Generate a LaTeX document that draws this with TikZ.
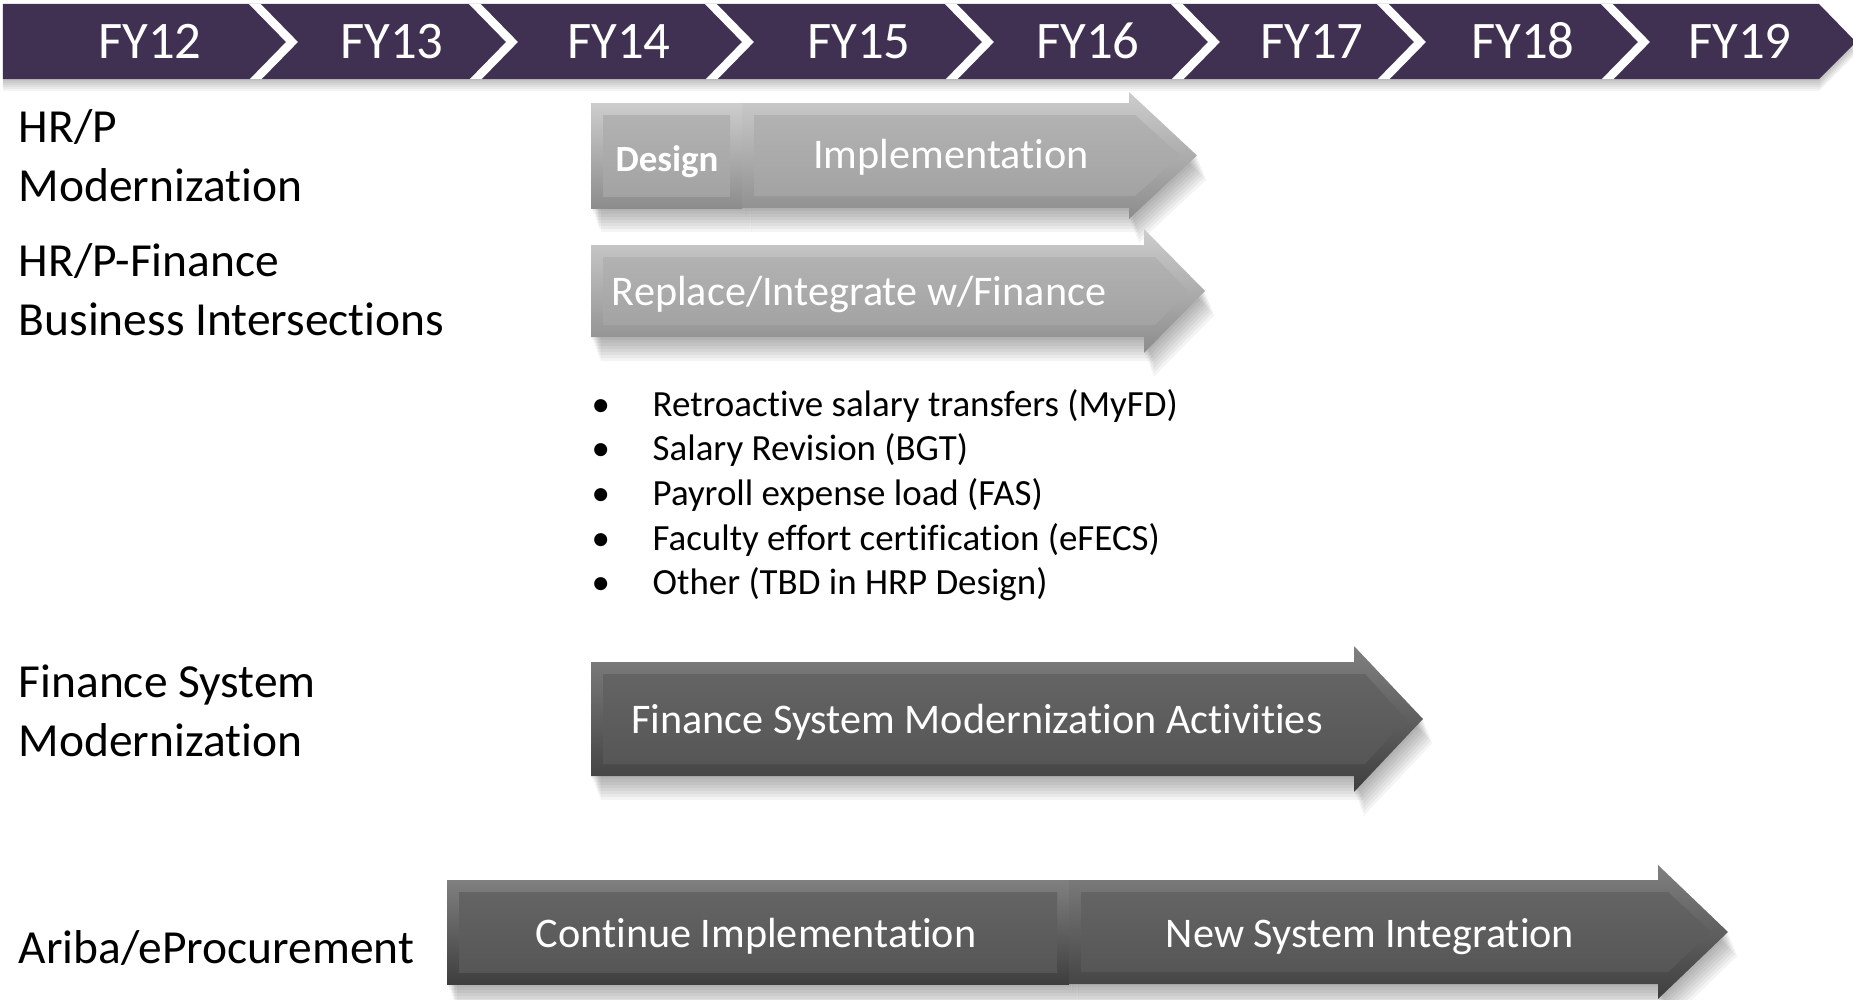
\documentclass[tikz,border=0pt]{standalone}
\usepackage{fontspec}
\setmainfont{Carlito}[Ligatures=NoCommon]

\definecolor{barpurple}{RGB}{64,49,82}
\definecolor{lightrimtop}{RGB}{205,205,205}
\definecolor{lightrimbot}{RGB}{140,140,140}
\definecolor{lightfacetop}{RGB}{178,178,178}
\definecolor{lightfacebot}{RGB}{163,163,163}
\definecolor{darkrimtop}{RGB}{128,128,128}
\definecolor{darkrimbot}{RGB}{62,62,62}
\definecolor{darkfacetop}{RGB}{100,100,100}
\definecolor{darkfacebot}{RGB}{86,86,86}

\tikzset{
	lightrim/.style={top color=lightrimtop, bottom color=lightrimbot},
	lightface/.style={top color=lightfacetop, bottom color=lightfacebot},
	darkrim/.style={top color=darkrimtop, bottom color=darkrimbot},
	darkface/.style={top color=darkfacetop, bottom color=darkfacebot},
	softshadow/.style={black, opacity=0.045},
	yearlabel/.style={anchor=base, text=white, inner sep=0pt, font=\fontsize{15}{18}\selectfont},
	rowlabel/.style={anchor=base west, align=left, inner sep=0pt, font=\fontsize{13.5}{16.5}\selectfont},
	barlabel/.style={anchor=base, text=white, inner sep=0pt, font=\fontsize{12}{14}\selectfont},
	itemlabel/.style={anchor=base west, inner sep=0pt, font=\fontsize{10.5}{12.7}\selectfont}
}

% bevelled block: left, right, top, bottom, tone
\newcommand{\bevelbox}[5]{%
	\foreach \s in {3,6,...,24}
		\fill[softshadow, shift={({0.4*\s},\s)}] (#1,#3) rectangle (#2,#4);
	\path[#5rim] (#1,#3) rectangle (#2,#4);
	\path[#5face] ({#1+12},{#3+12}) rectangle ({#2-12},{#4-12});
}
% bevelled arrow: left, head start, tip, top, bottom, head overhang, tone
\newcommand{\bevelarrow}[7]{%
	\foreach \s in {3,6,...,24}
		\fill[softshadow, shift={({0.4*\s},\s)}] (#1,#4) -- (#2,#4) -- (#2,{#4-#6}) -- (#3,{(#4+#5)/2}) -- (#2,{#5+#6}) -- (#2,#5) -- (#1,#5) -- cycle;
	\path[#7rim] (#1,#4) -- (#2,#4) -- (#2,{#4-#6}) -- (#3,{(#4+#5)/2}) -- (#2,{#5+#6}) -- (#2,#5) -- (#1,#5) -- cycle;
	\path[#7face] ({#1+12},{#4+12}) -- ({#2+#6-5},{#4+12}) -- ({#3-17},{(#4+#5)/2}) -- ({#2+#6-5},{#5-12}) -- ({#1+12},{#5-12}) -- cycle;
}

\begin{document}
\begin{tikzpicture}[x=0.01cm,y=-0.01cm]
	\useasboundingbox (0,0) rectangle (1853,1000);
	% year bar shadow
	\foreach \s in {2,4,...,12}
		\fill[softshadow, shift={(0,\s)}] (3,4) -- (1819,4) -- (1856,42) -- (1819,79) -- (3,79) -- cycle;
	% year bar
	\fill[barpurple] (3,4) -- (1819,4) -- (1856,42) -- (1819,79) -- (3,79) -- cycle;
	% chevron separators
	\begin{scope}
		\clip (3,4) -- (1819,4) -- (1856,42) -- (1819,79) -- (3,79) -- cycle;
		\foreach \t in {292,512,748,988,1214,1420,1644}
			\draw[white, line width=2.4pt] ({\t-45},-4) -- (\t,42) -- ({\t-45},88);
	\end{scope}
	% years
	\foreach \lab/\x in {FY12/150,FY13/392,FY14/619,FY15/859,FY16/1088,FY17/1312,FY18/1523,FY19/1740}
		\node[yearlabel] (\lab) at (\x,58) {\lab};

	% row labels (base = last line)
	\node[rowlabel] (hrp) at (18,201) {HR/P\\Modernization};
	\node[rowlabel] (hrpfin) at (18,335) {HR/P-Finance\\Business Intersections};
	\node[rowlabel] (finsys) at (18,756) {Finance System\\Modernization};
	\node[rowlabel] (ariba) at (18,963) {Ariba/eProcurement};

	% HR/P design + implementation
	\bevelbox{591}{742}{103}{208}{light}
	\bevelarrow{742}{1129}{1197}{103}{208}{11}{light}
	\node[barlabel, font=\fontsize{10.5}{12}\selectfont\bfseries] (design) at (667,172) {Design};
	\node[barlabel] (impl) at (951,168) {Implementation};

	% HR/P-Finance
	\bevelarrow{591}{1144}{1205}{245}{337}{16}{light}
	\node[barlabel] (replace) at (859,305) {Replace/Integrate w/Finance};

	% intersections list
	\foreach \txt [count=\i] in {Retroactive salary transfers (MyFD),Salary Revision (BGT),Payroll expense load (FAS),Faculty effort certification (eFECS),Other (TBD in HRP Design)}{
		\node[itemlabel] (dot\i) at (591,{416+(\i-1)*44.7}) {•};
		\node[itemlabel] (item\i) at (652,{416+(\i-1)*44.7}) {\txt};
	}

	% finance system
	\bevelarrow{591}{1354}{1423}{662}{776}{16}{dark}
	\node[barlabel] (finact) at (977,733) {Finance System Modernization Activities};

	% ariba
	\bevelbox{447}{1069}{880}{984}{dark}
	\bevelarrow{1069}{1658}{1728}{880}{984}{15}{dark}
	\node[barlabel] (contimpl) at (756,947) {Continue Implementation};
	\node[barlabel] (newsys) at (1370,947) {New System Integration};
\end{tikzpicture}
\end{document}
